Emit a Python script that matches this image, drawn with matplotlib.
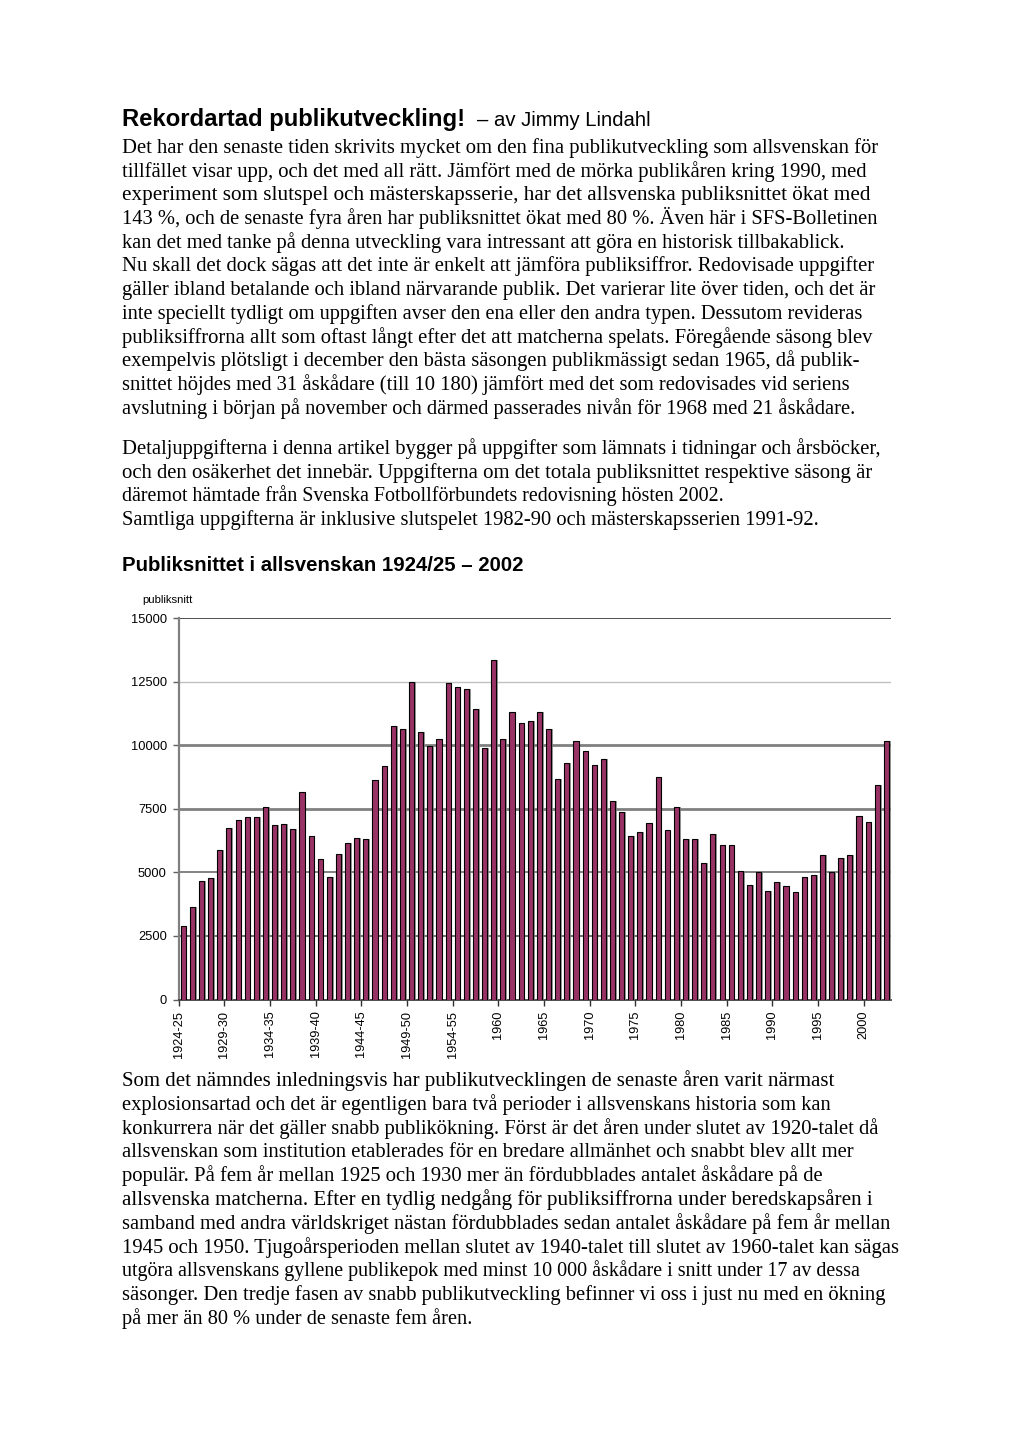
import numpy as np
import matplotlib
matplotlib.use("Agg")
import matplotlib.pyplot as plt
import matplotlib.patheffects as pe

# ---------------- data ----------------
seasons = [
    "1924-25", "1925-26", "1926-27", "1927-28", "1928-29", "1929-30", "1930-31", "1931-32",
    "1932-33", "1933-34", "1934-35", "1935-36", "1936-37", "1937-38", "1938-39", "1939-40",
    "1940-41", "1941-42", "1942-43", "1943-44", "1944-45", "1945-46", "1946-47", "1947-48",
    "1948-49", "1949-50", "1950-51", "1951-52", "1952-53", "1953-54", "1954-55", "1955-56",
    "1956-57", "1957-58",
    "1959", "1960", "1961", "1962", "1963", "1964", "1965", "1966", "1967", "1968", "1969",
    "1970", "1971", "1972", "1973", "1974", "1975", "1976", "1977", "1978", "1979", "1980",
    "1981", "1982", "1983", "1984", "1985", "1986", "1987", "1988", "1989", "1990", "1991",
    "1992", "1993", "1994", "1995", "1996", "1997", "1998", "1999", "2000", "2001", "2002",
]
publiksnitt = [
    2880, 3625, 4646, 4764, 5876, 6740, 7081, 7185,
    7185, 7591, 6884, 6923, 6727, 8180, 6426, 5510,
    4829, 5706, 6164, 6374, 6334, 8651, 9201, 10759,
    10654, 12513, 10523, 9960, 10261, 12461, 12304, 12225,
    11426, 9908,
    13364, 10261, 11309, 10890, 10955, 11309, 10654, 8691, 9306, 10159, 9764,
    9214, 9450, 7827, 7395, 6452, 6609, 6937, 8743, 6688, 7591, 6334,
    6334, 5379, 6531, 6086, 6060, 5065, 4515, 5000, 4253, 4620, 4463,
    4214, 4816, 4881, 5680, 5000, 5575, 5680, 7238, 6989, 8455, 10180,
]
y_ticks = [0, 2500, 5000, 7500, 10000, 12500, 15000]
x_tick_labels = ["1924-25", "1929-30", "1934-35", "1939-40", "1944-45", "1949-50",
                 "1954-55", "1960", "1965", "1970", "1975", "1980", "1985", "1990",
                 "1995", "2000"]

title_bold = "Rekordartad publikutveckling!"
title_rest = "– av Jimmy Lindahl"
chart_title = "Publiksnittet i allsvenskan 1924/25 – 2002"
y_label = "publiksnitt"

para1 = [
    "Det har den senaste tiden skrivits mycket om den fina publikutveckling som allsvenskan för",
    "tillfället visar upp, och det med all rätt. Jämfört med de mörka publikåren kring 1990, med",
    "experiment som slutspel och mästerskapsserie, har det allsvenska publiksnittet ökat med",
    "143 %, och de senaste fyra åren har publiksnittet ökat med 80 %. Även här i SFS-Bolletinen",
    "kan det med tanke på denna utveckling vara intressant att göra en historisk tillbakablick.",
    "Nu skall det dock sägas att det inte är enkelt att jämföra publiksiffror. Redovisade uppgifter",
    "gäller ibland betalande och ibland närvarande publik. Det varierar lite över tiden, och det är",
    "inte speciellt tydligt om uppgiften avser den ena eller den andra typen. Dessutom revideras",
    "publiksiffrorna allt som oftast långt efter det att matcherna spelats. Föregående säsong blev",
    "exempelvis plötsligt i december den bästa säsongen publikmässigt sedan 1965, då publik-",
    "snittet höjdes med 31 åskådare (till 10 180) jämfört med det som redovisades vid seriens",
    "avslutning i början på november och därmed passerades nivån för 1968 med 21 åskådare.",
]
para2 = [
    "Detaljuppgifterna i denna artikel bygger på uppgifter som lämnats i tidningar och årsböcker,",
    "och den osäkerhet det innebär. Uppgifterna om det totala publiksnittet respektive säsong är",
    "däremot hämtade från Svenska Fotbollförbundets redovisning hösten 2002.",
    "Samtliga uppgifterna är inklusive slutspelet 1982-90 och mästerskapsserien 1991-92.",
]
para3 = [
    "Som det nämndes inledningsvis har publikutvecklingen de senaste åren varit närmast",
    "explosionsartad och det är egentligen bara två perioder i allsvenskans historia som kan",
    "konkurrera när det gäller snabb publikökning. Först är det åren under slutet av 1920-talet då",
    "allsvenskan som institution etablerades för en bredare allmänhet och snabbt blev allt mer",
    "populär. På fem år mellan 1925 och 1930 mer än fördubblades antalet åskådare på de",
    "allsvenska matcherna. Efter en tydlig nedgång för publiksiffrorna under beredskapsåren i",
    "samband med andra världskriget nästan fördubblades sedan antalet åskådare på fem år mellan",
    "1945 och 1950. Tjugoårsperioden mellan slutet av 1940-talet till slutet av 1960-talet kan sägas",
    "utgöra allsvenskans gyllene publikepok med minst 10 000 åskådare i snitt under 17 av dessa",
    "säsonger. Den tredje fasen av snabb publikutveckling befinner vi oss i just nu med en ökning",
    "på mer än 80 % under de senaste fem åren.",
]

# ---------------- layout (pixels) ----------------
W, H = 1020, 1441
fig = plt.figure(figsize=(W / 100, H / 100), dpi=100)
renderer = fig.canvas.get_renderer()

def fx(px):
    return px / W

def fy(py):
    return 1 - py / H

LEFT = 122

def make_text(x, y, s, family="Liberation Serif", weight="normal", size=13.0):
    return fig.text(fx(x), fy(y), s, fontsize=size, family=family, weight=weight,
                    ha="left", va="baseline", color="black")

def fit_size(t, x, right):
    w = t.get_window_extent(renderer).width
    return t.get_fontsize() * (right - x) / w

# title
t = make_text(LEFT, 126, title_bold, family="Liberation Sans", weight="bold", size=15)
t.set_fontsize(fit_size(t, LEFT, 468))
t = make_text(477, 126, title_rest, family="Liberation Sans", size=12)
t.set_fontsize(fit_size(t, 477, 651))
t = make_text(LEFT, 571, chart_title, family="Liberation Sans", weight="bold", size=12.5)
t.set_fontsize(fit_size(t, LEFT, 526))
t = make_text(142, 603, y_label, family="Liberation Sans", size=7.5)
t.set_fontsize(fit_size(t, 142, 192))

# body paragraphs: (lines, right edges, first baseline, line step)
p1_right = [877, 866, 866, 877, 846, 873, 875, 860, 873, 863, 848, 855]
p2_right = [880, 872, 697, 820]
p3_right = [831, 830, 877, 852, 824, 867, 890, 898, 858, 885, 472]
blocks = [
    (para1, p1_right, 153, 23.7),
    (para2, p2_right, 454, 23.7),
    (para3, p3_right, 1086, 23.8),
]
body = []
for lines, rights, y0, dy in blocks:
    for i, (line, r) in enumerate(zip(lines, rights)):
        tt = make_text(LEFT, y0 + i * dy, line)
        body.append((tt, fit_size(tt, LEFT, r)))
median = float(np.median([s for _, s in body]))
for tt, s in body:
    tt.set_fontsize(min(max(s, median * 0.975), median * 1.025))

# ---------------- chart ----------------
ax_l, ax_r, ax_t, ax_b = 178.7, 891.0, 618.3, 999.5
ax = fig.add_axes([fx(ax_l), fy(ax_b), (ax_r - ax_l) / W, (ax_b - ax_t) / H])
ax.set_facecolor("white")

grid_styles = {
    2500: ("#5a5a5a", 1.2),
    5000: ("#6e6e6e", 1.2),
    7500: ("#808080", 2.0),
    10000: ("#808080", 2.0),
    12500: ("#c0c0c0", 1.0),
    15000: ("#505050", 1.4),
}
for v, (c, lw) in grid_styles.items():
    ax.axhline(v, color=c, lw=lw, zorder=0)

x = np.arange(len(seasons))
bars = ax.bar(x, publiksnitt, width=0.56, color="#993366", edgecolor="black",
              linewidth=0.8, zorder=3)
for b in bars:
    b.set_path_effects([pe.SimplePatchShadow(offset=(1.2, 0), shadow_rgbFace="#808080",
                                             alpha=0.8), pe.Normal()])

ax.set_xlim(-0.5, len(seasons) - 0.5)
ax.set_ylim(0, 15000)
ax.set_yticks(y_ticks)
ax.set_yticklabels([str(v) for v in y_ticks], family="Liberation Sans", fontsize=9.3)

tick_pos = [seasons.index(s) - 0.5 for s in x_tick_labels]
ax.set_xticks(tick_pos)
ax.set_xticklabels(x_tick_labels, rotation=90, family="Liberation Sans", fontsize=9.2,
                   ha="center", va="top")

ax.tick_params(axis="y", length=4, width=1.0, color="#606060", pad=4.5)
ax.tick_params(axis="x", length=4.5, width=1.0, color="#303030", pad=3.5)

for side in ["top", "right"]:
    ax.spines[side].set_visible(False)
ax.spines["left"].set_color("#808080")
ax.spines["left"].set_linewidth(1.6)
ax.spines["bottom"].set_color("#404040")
ax.spines["bottom"].set_linewidth(1.3)

fig.savefig("out.png", dpi=100, facecolor="white")
